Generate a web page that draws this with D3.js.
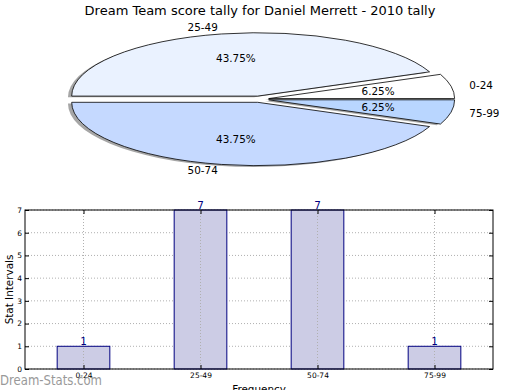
<!DOCTYPE html>
<html>
<head>
<meta charset="utf-8">
<script src="https://d3js.org/d3.v7.min.js"></script>
<style>
body { margin: 0; background: #fff; }
text { font-family: "DejaVu Sans", sans-serif; }
</style>
</head>
<body>
<svg id="chart" width="520" height="390"></svg>
<script>
var title = "Dream Team score tally for Daniel Merrett - 2010 tally";
var categories = ["0-24", "25-49", "50-74", "75-99"];
var counts = [1, 7, 7, 1];
var sliceColors = ["#ffffff", "#eaf2ff", "#c5d9ff", "#b9d6ff"];
var yTicks = [0, 1, 2, 3, 4, 5, 6, 7];

var svg = d3.select("#chart");

svg.append("text")
    .attr("x", 260).attr("y", 15)
    .attr("text-anchor", "middle")
    .style("font-size", "13px")
    .text(title);

// ---- pie (matplotlib style, squashed into an ellipse)
var cx = 259.5, cy = 99.2, rx = 186, ry = 63.3, explode = 0.05;
var total = d3.sum(counts);

// counter-clockwise from 3 o'clock
var pie = d3.pie().sort(null)
    .startAngle(Math.PI / 2)
    .endAngle(Math.PI / 2 - 2 * Math.PI);
var arcs = pie(counts);
var arc = d3.arc().innerRadius(0).outerRadius(1);

function midTheta(d) {
    // back to math angle (ccw from east)
    return Math.PI / 2 - (d.startAngle + d.endAngle) / 2;
}

var pieG = svg.append("g");

// shadows first
pieG.selectAll("path.shadow")
    .data(arcs)
    .enter().append("path")
    .attr("class", "shadow")
    .attr("d", arc)
    .attr("transform", function(d) {
        var t = midTheta(d);
        var ox = cx + (explode * Math.cos(t) - 0.02) * rx;
        var oy = cy - (explode * Math.sin(t) - 0.02) * ry;
        return "translate(" + ox + "," + oy + ") scale(" + rx + "," + ry + ")";
    })
    .style("fill", "#4d4d4d")
    .style("opacity", 0.5)
    .style("stroke", "none");

pieG.selectAll("path.slice")
    .data(arcs)
    .enter().append("path")
    .attr("class", "slice")
    .attr("d", arc)
    .attr("transform", function(d) {
        var t = midTheta(d);
        var ox = cx + explode * Math.cos(t) * rx;
        var oy = cy - explode * Math.sin(t) * ry;
        return "translate(" + ox + "," + oy + ") scale(" + rx + "," + ry + ")";
    })
    .style("fill", function(d, i) { return sliceColors[i]; })
    .style("stroke", "#000")
    .style("stroke-width", 0.8)
    .attr("vector-effect", "non-scaling-stroke");

// category labels
pieG.selectAll("text.lbl")
    .data(arcs)
    .enter().append("text")
    .attr("class", "lbl")
    .attr("x", function(d) {
        var t = midTheta(d);
        return cx + (explode + 1.1) * Math.cos(t) * rx;
    })
    .attr("y", function(d) {
        var t = midTheta(d);
        return cy - (explode + 1.1) * Math.sin(t) * ry;
    })
    .attr("dy", "0.35em")
    .attr("text-anchor", function(d) { return Math.cos(midTheta(d)) > 0 ? "start" : "end"; })
    .style("font-size", "10.4px")
    .text(function(d, i) { return categories[i]; });

// percent labels
pieG.selectAll("text.pct")
    .data(arcs)
    .enter().append("text")
    .attr("class", "pct")
    .attr("x", function(d) {
        var t = midTheta(d);
        return cx + (explode + 0.6) * Math.cos(t) * rx;
    })
    .attr("y", function(d) {
        var t = midTheta(d);
        return cy - (explode + 0.6) * Math.sin(t) * ry;
    })
    .attr("dy", "0.35em")
    .attr("text-anchor", "middle")
    .style("font-size", "10.4px")
    .text(function(d) { return (100 * d.value / total).toFixed(2) + "%"; });

// ---- bar chart
var left = 25, right = 493, plotTop = 210, bottom = 369;

var x = d3.scaleLinear().domain([-0.5, categories.length - 0.5]).range([left, right]);
var y = d3.scaleLinear().domain([0, 7]).range([bottom, plotTop]);
var barW = 0.45;

var barG = svg.append("g");

// grid
barG.selectAll("line.hgrid")
    .data(yTicks)
    .enter().append("line")
    .attr("x1", left).attr("x2", right)
    .attr("y1", function(d) { return y(d); })
    .attr("y2", function(d) { return y(d); })
    .style("stroke", "#b0b0b0")
    .style("stroke-dasharray", "1,2")
    .style("stroke-width", 1);

barG.selectAll("rect.bar")
    .data(counts)
    .enter().append("rect")
    .attr("x", function(d, i) { return x(i - barW / 2); })
    .attr("y", function(d) { return y(d); })
    .attr("width", x(barW) - x(0))
    .attr("height", function(d) { return y(0) - y(d); })
    .style("fill", "#cccce5")
    .style("stroke", "#000080")
    .style("stroke-width", 1);

barG.selectAll("line.vgrid")
    .data(categories)
    .enter().append("line")
    .attr("x1", function(d, i) { return x(i); })
    .attr("x2", function(d, i) { return x(i); })
    .attr("y1", plotTop).attr("y2", bottom)
    .style("stroke", "#b0b0b0")
    .style("stroke-dasharray", "1,2")
    .style("stroke-width", 1);

// value labels
barG.selectAll("text.val")
    .data(counts)
    .enter().append("text")
    .attr("x", function(d, i) { return x(i); })
    .attr("y", function(d) { return y(d) - 1; })
    .attr("text-anchor", "middle")
    .style("font-size", "10.4px")
    .style("fill", "#000080")
    .text(function(d) { return d; });

// axes with inward ticks
var yAxis = d3.axisLeft(y).tickValues(yTicks).tickFormat(d3.format("d"))
    .tickSizeInner(-4).tickSizeOuter(0).tickPadding(3);
var yAxisR = d3.axisRight(y).tickValues(yTicks).tickSizeInner(-4).tickSizeOuter(0).tickFormat("");
var xAxis = d3.axisBottom(x).tickValues(d3.range(categories.length))
    .tickFormat(function(i) { return categories[i]; })
    .tickSizeInner(-4).tickSizeOuter(0).tickPadding(4);
var xAxisT = d3.axisTop(x).tickValues(d3.range(categories.length)).tickSizeInner(-4).tickSizeOuter(0).tickFormat("");

function styleAxis(g) {
    g.select(".domain").remove();
    g.selectAll(".tick line").style("stroke", "#000");
    g.selectAll(".tick text").style("font-size", "7.5px").style("font-family", "DejaVu Sans, sans-serif").attr("fill", "#000");
}

svg.append("g").attr("transform", "translate(" + left + ",0)").call(yAxis).call(styleAxis);
svg.append("g").attr("transform", "translate(" + right + ",0)").call(yAxisR).call(styleAxis);
svg.append("g").attr("transform", "translate(0," + bottom + ")").call(xAxis).call(styleAxis);
svg.append("g").attr("transform", "translate(0," + plotTop + ")").call(xAxisT).call(styleAxis);

svg.append("rect")
    .attr("x", left).attr("y", plotTop)
    .attr("width", right - left).attr("height", bottom - plotTop)
    .style("fill", "none").style("stroke", "#000").style("stroke-width", 1);

svg.append("text")
    .attr("transform", "translate(13," + ((plotTop + bottom) / 2) + ") rotate(-90)")
    .attr("text-anchor", "middle")
    .style("font-size", "10.4px")
    .text("Stat Intervals");

svg.append("text")
    .attr("x", (left + right) / 2).attr("y", 393)
    .attr("text-anchor", "middle")
    .style("font-size", "10.4px")
    .text("Frequency");

svg.append("text")
    .attr("x", 0).attr("y", 385)
    .style("font-size", "14.5px")
    .style("fill", "#888")
    .style("opacity", 0.85)
    .attr("textLength", 102)
    .attr("lengthAdjust", "spacingAndGlyphs")
    .text("Dream-Stats.com");
</script>
</body>
</html>
